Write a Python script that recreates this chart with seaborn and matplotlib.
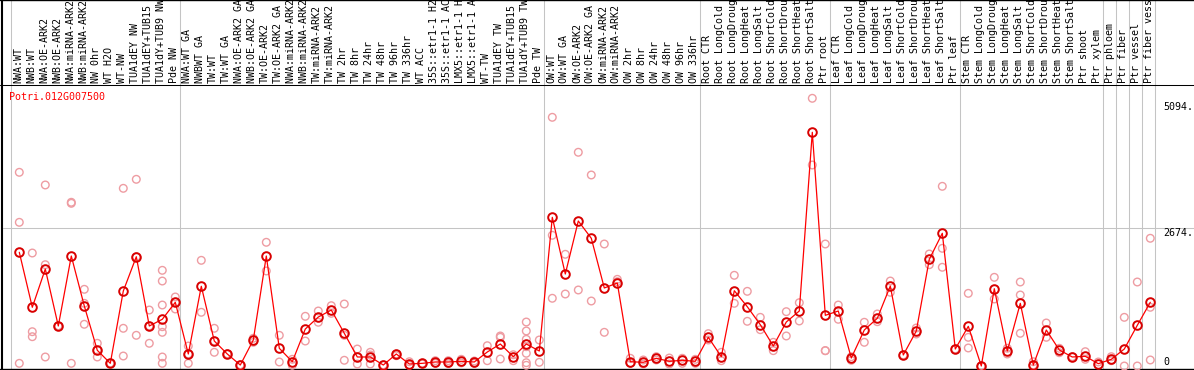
import numpy as np
import pandas as pd
import matplotlib
matplotlib.use("Agg")
import matplotlib.pyplot as plt
import seaborn as sns

# ---------------------------------------------------------------------------
# Data (expression level per sample)
# ---------------------------------------------------------------------------
gene = "Potri.012G007500"

labels = [
    # group 1
    "NWA:WT", "NWB:WT", "NWA:OE-ARK2", "NWB:OE-ARK2", "NWA:miRNA-ARK2",
    "NWB:miRNA-ARK2", "NW 0hr", "WT H2O", "WT-NW", "TUA1dEY NW",
    "TUA1dEY+TUB15 NW", "TUA1dY+TUB9 NW", "Pde NW",
    # group 2
    "NWA:WT GA", "NWBWT GA", "TW:WT", "TW:WT GA", "NWA:OE-ARK2 GA",
    "NWB:OE-ARK2 GA", "TW:OE-ARK2", "TW:OE-ARK2 GA", "NWA:miRNA-ARK2 GA",
    "NWB:miRNA-ARK2 GA", "TW:miRNA-ARK2", "TW:miRNA-ARK2 GA", "TW 2hr",
    "TW 8hr", "TW 24hr", "TW 48hr", "TW 96hr", "TW 336hr", "WT ACC",
    "35S::etr1-1 H2O", "35S::etr1-1 ACC", "LMX5::etr1-1 H2O",
    "LMX5::etr1-1 ACC", "WT-TW", "TUA1dEY TW", "TUA1dEY+TUB15 TW",
    "TUA1dY+TUB9 TW", "Pde TW",
    # group 3
    "OW:WT", "OW:WT GA", "OW:OE-ARK2", "OW:OE-ARK2 GA", "OW:miRNA-ARK2",
    "OW:miRNA-ARK2 GA", "OW 2hr", "OW 8hr", "OW 24hr", "OW 48hr", "OW 96hr",
    "OW 336hr",
    # root
    "Root CTR", "Root LongCold", "Root LongDrought", "Root LongHeat",
    "Root LongSalt", "Root ShortCold", "Root ShortDrought", "Root ShortHeat",
    "Root ShortSalt", "Ptr root",
    # leaf
    "Leaf CTR", "Leaf LongCold", "Leaf LongDrought", "Leaf LongHeat",
    "Leaf LongSalt", "Leaf ShortCold", "Leaf ShortDrought", "Leaf ShortHeat",
    "Leaf ShortSalt", "Ptr leaf",
    # stem / wood
    "Stem CTR", "Stem LongCold", "Stem LongDrought", "Stem LongHeat",
    "Stem LongSalt", "Stem ShortCold", "Stem ShortDrought", "Stem ShortHeat",
    "Stem ShortSalt", "Ptr shoot", "Ptr xylem", "Ptr phloem", "Ptr fiber",
    "Ptr vessel", "Ptr fiber vessel",
]

means = [
    2208, 1140, 1883, 777, 2136, 1165, 305, 52, 1456, 2122, 777, 907, 1237,
    233, 1548, 485, 233, 19, 505, 2136, 344, 83, 718, 951, 1087, 635, 175,
    175, 19, 233, 39, 52, 78, 78, 91, 78, 272, 427, 181, 427, 291,
    2887, 1786, 2816, 2480, 1515, 1612, 83, 72, 150, 91, 111, 91,
    557, 181, 1462, 1151, 802, 388, 854, 1068, 4538, 984,
    1068, 155, 699, 926, 1553, 214, 680, 2072, 2577, 330,
    771, 0, 1501, 291, 1217, 19, 699, 311, 175, 188, 45, 130, 330, 790, 1237,
]

reps = [
    [3761, 2790, 52], [2194, 666, 569], [3515, 1967, 175], [777, 777, 777],
    [3179, 3159, 52], [1489, 1217, 810], [441, 175, 305], [52, 52, 52],
    [3450, 732, 194], [3625, 596, 2122], [1087, 441, 777],
    [1858, 1650, 1184, 763, 654, 175, 52], [1340, 1107, 1237],
    [388, 52, 233], [2052, 1043], [732, 266, 485], [233, 233, 233],
    [19, 19, 19], [538, 460], [2402, 1845], [596, 78], [130, 14], [965, 485],
    [1068, 849], [1171, 1023], [1204, 596, 111], [330, 39], [266, 214, 39],
    [19, 19], [200, 233], [83, 14], [52, 40], [103, 52], [103, 45],
    [130, 60], [97, 52], [394, 103], [583, 557, 136], [219, 103],
    [854, 680, 518, 375, 247, 64, 14], [505, 72],
    [4829, 2538, 1315], [2169, 1398], [4150, 1476], [3709, 1262],
    [2369, 654], [1683, 1637], [150, 52], [117, 39], [181, 117], [155, 39],
    [150, 52], [130, 52],
    [628, 505], [266, 103], [1761, 1217], [1450, 868], [945, 705],
    [460, 298], [1055, 583], [1229, 874], [5198, 3903], [2369, 298, 298],
    [1184, 907], [181, 111], [849, 460], [1010, 860], [1650, 1431], [214],
    [738, 621], [2175, 1967], [3489, 2285, 1917], [330],
    [1411, 557, 350], [0, 0], [1722, 1301], [344, 233], [1631, 1379, 635],
    [83, 19], [835, 557], [344, 258], [181], [278, 130], [78], [181, 103],
    [945, 0], [1631, 0], [2480, 1140, 117],
]

group_starts = [0, 13, 41, 53, 63, 73, 84, 85, 86, 87, 88]
ytick_labels = ["5094.", "2674.", "0"]
ytick_values = [5094, 2674, 0]

# ---------------------------------------------------------------------------
# Long-form frames for seaborn
# ---------------------------------------------------------------------------
mean_df = pd.DataFrame({"pos": np.arange(len(means)), "value": means})
rep_df = pd.DataFrame(
    [(i, v) for i, vals in enumerate(reps) for v in vals],
    columns=["pos", "value"],
)

sns.set_style("white")
plt.rcParams["font.family"] = ["DejaVu Sans Mono"]

W, H = 1194, 370
fig = plt.figure(figsize=(W / 100, H / 100), dpi=100)
ax = fig.add_axes([0, 0, 1, 1])

# pixel <-> data mapping taken from the reference layout
x0, dx = 19.3, 13.0          # column centre in px
y0, dy = 366.0, 0.0515       # y pixel of value 0, px per unit
px_x = lambda p: (p - x0) / dx
px_y = lambda p: (y0 - p) / dy

ax.set_xlim(px_x(0), px_x(W))
ax.set_ylim(px_y(H), px_y(0))
ax.axis("off")

red = "#ff0000"
pink = "#ee9ca2"
grey = "#c4c4c4"
thin = 0.75

# group dividers (full height) and reference grid line
for g in group_starts:
    ax.axvline(g - 0.63, color=grey, lw=thin, zorder=1)
ax.axhline(2674, xmin=3 / W, color=grey, lw=thin, zorder=1)

# frame: header rule, left/bottom/top border
ax.axhline(px_y(85), color="black", lw=thin, zorder=2)
ax.axvline(px_x(1.5), color="black", lw=1.5, zorder=2)
ax.axhline(px_y(369), color="black", lw=1.0, zorder=2)
ax.axhline(px_y(0.5), color="black", lw=1.0, zorder=2)

# replicates
sns.scatterplot(data=rep_df, x="pos", y="value", ax=ax, marker="o", s=30,
                facecolor="none", edgecolor=pink, linewidth=1.0, zorder=3,
                legend=False)

# means
sns.lineplot(data=mean_df, x="pos", y="value", ax=ax, color=red, lw=0.9,
             marker="o", markersize=6.2, markerfacecolor="none",
             markeredgecolor="#d80000", markeredgewidth=1.4, zorder=4)

# header labels (rotated, clipped by the figure top as in the reference)
for i, lab in enumerate(labels):
    ax.text(i - 0.08, px_y(83), lab, rotation=90, ha="center", va="bottom",
            fontsize=7.2, color="black", clip_on=False)

# gene name
ax.text(px_x(9.3), px_y(96.7), gene, ha="left", va="center",
        fontsize=7.2, color=red)

# right-hand scale labels
for lab, v, py in zip(ytick_labels, ytick_values, [107, 233, 362]):
    ax.text(px_x(1163), px_y(py), lab, ha="left", va="center",
            fontsize=7.2, color="black")

ax.set_xlabel("")
ax.set_ylabel("")
fig.savefig("out.png", dpi=100)
